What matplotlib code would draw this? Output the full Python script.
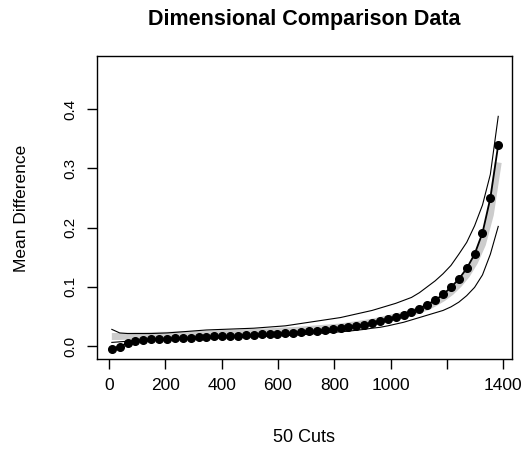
import matplotlib
matplotlib.use('Agg')
import matplotlib.pyplot as plt

plt.rcParams['font.family'] = ['Liberation Sans', 'DejaVu Sans']

# 50 cut positions
cuts = [10, 38, 66, 94, 122, 150, 178, 206, 234, 262,
        290, 318, 346, 374, 402, 430, 458, 486, 514, 542,
        570, 598, 626, 654, 682, 710, 738, 766, 794, 822,
        850, 878, 906, 934, 962, 990, 1018, 1046, 1074, 1102,
        1130, 1158, 1186, 1214, 1242, 1270, 1298, 1326, 1354, 1382]

# observed mean difference (black dots)
mean_diff = [-0.005, -0.001, 0.005, 0.008, 0.010, 0.011, 0.012, 0.0125, 0.013, 0.0135,
             0.014, 0.0145, 0.015, 0.016, 0.0165, 0.017, 0.0175, 0.018, 0.019, 0.0195,
             0.020, 0.021, 0.0215, 0.0225, 0.024, 0.025, 0.026, 0.027, 0.028, 0.030,
             0.032, 0.034, 0.036, 0.039, 0.042, 0.045, 0.049, 0.053, 0.058, 0.063,
             0.070, 0.077, 0.087, 0.099, 0.113, 0.131, 0.155, 0.191, 0.250, 0.340]

# fitted curve (grey band)
fitted = [0.016, 0.016, 0.0165, 0.017, 0.017, 0.0175, 0.018, 0.018, 0.0185, 0.019,
          0.019, 0.0195, 0.020, 0.0205, 0.021, 0.0215, 0.022, 0.0225, 0.023, 0.0235,
          0.024, 0.025, 0.0255, 0.026, 0.027, 0.028, 0.029, 0.030, 0.031, 0.032,
          0.034, 0.036, 0.038, 0.040, 0.043, 0.046, 0.049, 0.052, 0.056, 0.061,
          0.066, 0.073, 0.081, 0.091, 0.104, 0.120, 0.142, 0.172, 0.222, 0.310]

# upper / lower bounds (thin lines)
upper = [0.028, 0.022, 0.021, 0.021, 0.021, 0.021, 0.0215, 0.022, 0.023, 0.024,
         0.025, 0.026, 0.027, 0.0275, 0.028, 0.0285, 0.029, 0.0295, 0.030, 0.031,
         0.032, 0.033, 0.034, 0.036, 0.038, 0.040, 0.042, 0.044, 0.046, 0.048,
         0.051, 0.054, 0.057, 0.060, 0.064, 0.068, 0.072, 0.077, 0.082, 0.090,
         0.100, 0.110, 0.122, 0.136, 0.155, 0.175, 0.203, 0.238, 0.290, 0.388]

lower = [0.006, 0.007, 0.008, 0.008, 0.0085, 0.009, 0.0095, 0.010, 0.0105, 0.011,
         0.0115, 0.012, 0.0125, 0.013, 0.0135, 0.014, 0.0145, 0.015, 0.0155, 0.016,
         0.0165, 0.017, 0.0175, 0.018, 0.019, 0.020, 0.021, 0.022, 0.023, 0.024,
         0.025, 0.0265, 0.028, 0.030, 0.0315, 0.034, 0.037, 0.040, 0.044, 0.048,
         0.052, 0.056, 0.060, 0.066, 0.074, 0.085, 0.099, 0.120, 0.155, 0.202]

x_ticks = [0, 200, 400, 600, 800, 1000, 1200, 1400]
x_tick_labels = ['0', '200', '400', '600', '800', '1000', '', '1400']
y_ticks = [0.0, 0.1, 0.2, 0.3, 0.4]
y_tick_labels = ['0.0', '0.1', '0.2', '0.3', '0.4']

fig = plt.figure(figsize=(5.29, 4.54), dpi=100)
ax = fig.add_axes([0.1834, 0.2093, 0.7839, 0.6674])

ax.plot(cuts, fitted, color='#cccccc', lw=5, solid_capstyle='butt', zorder=1)
ax.plot(cuts, upper, color='black', lw=0.8, zorder=2)
ax.plot(cuts, lower, color='black', lw=0.8, zorder=2)
ax.plot(cuts, mean_diff, color='black', lw=1.3, marker='o', markersize=5.5,
        zorder=3)

ax.set_xlim(-42.6, 1429.8)
ax.set_ylim(-0.022, 0.490)

ax.set_xticks(x_ticks)
ax.set_xticklabels(x_tick_labels, fontsize=12.5)
ax.set_yticks(y_ticks)
ax.set_yticklabels(y_tick_labels, fontsize=11, rotation=90, va='center')
ax.tick_params(length=7.5, width=1)
ax.tick_params(axis='x', pad=6)
ax.tick_params(axis='y', pad=7)

for s in ax.spines.values():
    s.set_linewidth(1)
    s.set_color('black')

fig.text(304 / 529, 1 - 20 / 454, 'Dimensional Comparison Data',
         ha='center', va='center', fontsize=15.5, fontweight='bold')
fig.text(304 / 529, 1 - 437 / 454, '50 Cuts', ha='center', va='center', fontsize=13)
fig.text(22 / 529, 1 - 208 / 454, 'Mean Difference', ha='center', va='center',
         rotation=90, fontsize=12.5)

fig.savefig('out.png', dpi=100)
